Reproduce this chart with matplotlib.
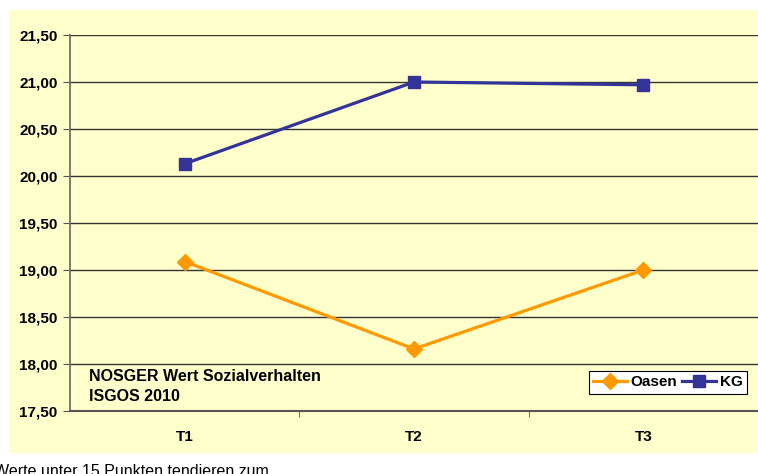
import matplotlib
matplotlib.use("Agg")
import matplotlib.pyplot as plt
from matplotlib.patches import Rectangle

# Data
categories = ["T1", "T2", "T3"]
oasen = [19.09, 18.16, 19.00]
kg = [20.13, 21.00, 20.97]
y_ticks = [17.5, 18.0, 18.5, 19.0, 19.5, 20.0, 20.5, 21.0, 21.5]
y_tick_labels = ["17,50", "18,00", "18,50", "19,00", "19,50", "20,00", "20,50", "21,00", "21,50"]
series_names = ["Oasen", "KG"]
title_text = "NOSGER Wert Sozialverhalten\nISGOS 2010"
footer_text = "Werte unter 15 Punkten tendieren zum"

plt.rcParams["font.family"] = ["Liberation Sans", "DejaVu Sans"]

W, H = 758, 474
fig = plt.figure(figsize=(W / 100, H / 100), dpi=100, facecolor="white")

# Chart area background panel
panel_color = "#FFFFCC"
fig.patches.append(Rectangle((9 / W, 1 - 453 / H), 1 - 9 / W, (453 - 10) / H,
                             transform=fig.transFigure, facecolor=panel_color,
                             edgecolor="none", zorder=-10))

ax = fig.add_axes([70 / W, 1 - 411 / H, (758 - 70) / W, (411 - 35) / H])
ax.set_facecolor(panel_color)

x = list(range(len(categories)))
orange = "#FF9900"
blue = "#333399"
ax.plot(x, oasen, color=orange, lw=2.3, marker="D", markersize=8,
        markeredgecolor=orange, label=series_names[0], zorder=3)
ax.plot(x, kg, color=blue, lw=2.3, marker="s", markersize=8,
        markeredgecolor=blue, label=series_names[1], zorder=3)

ax.set_xlim(-0.5, 2.5)
ax.set_ylim(17.5, 21.5)

ax.set_yticks(y_ticks)
ax.set_yticklabels(y_tick_labels, fontsize=11, fontweight="bold")
for v in y_ticks[1:]:
    ax.axhline(v, color="#333333", lw=1.0, zorder=1)

ax.set_xticks(x)
ax.set_xticklabels(categories, fontsize=11, fontweight="bold")
ax.tick_params(axis="x", which="major", length=0, pad=14)
ax.set_xticks([0.5, 1.5], minor=True)
ax.tick_params(axis="x", which="minor", length=4, color="#555555", direction="out")
ax.tick_params(axis="y", length=5, color="#555555", direction="out", pad=4)

for side in ["top", "right"]:
    ax.spines[side].set_visible(False)
ax.spines["left"].set_color("#666666")
ax.spines["left"].set_linewidth(1.2)
ax.spines["bottom"].set_color("#555555")
ax.spines["bottom"].set_linewidth(1.5)

ax.text(89 / W, 1 - 369 / H, title_text, transform=fig.transFigure,
        fontsize=11.5, fontweight="bold", va="top", ha="left", linespacing=1.4)

leg = ax.legend(ncol=2, loc="lower right", bbox_to_anchor=((747 - 70) / (758 - 70), (411 - 394) / (411 - 35)),
                frameon=True, fancybox=False, edgecolor="black", facecolor="white",
                framealpha=1, prop={"weight": "bold", "size": 11},
                handlelength=2.2, handletextpad=0.25, columnspacing=0.3,
                borderpad=0.3, borderaxespad=0)
leg.get_frame().set_linewidth(0.8)

fig.text(-6 / W, 1 - 464 / H, footer_text, fontsize=11.5, va="top", ha="left")

fig.savefig("out.png", dpi=100, facecolor="white")
